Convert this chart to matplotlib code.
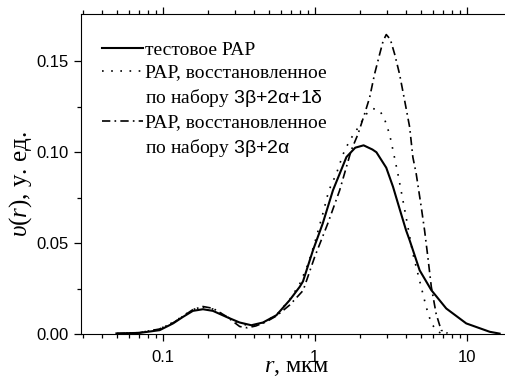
import matplotlib
matplotlib.use('Agg')
import matplotlib.pyplot as plt
from matplotlib.lines import Line2D
from matplotlib.ticker import FixedLocator, NullFormatter

plt.rcParams['mathtext.fontset'] = 'custom'
plt.rcParams['mathtext.rm'] = 'Liberation Serif'
plt.rcParams['mathtext.it'] = 'Liberation Serif:italic'
plt.rcParams['mathtext.sf'] = 'Liberation Sans'

# test distribution (solid)
r_test = [0.0496, 0.0707, 0.0955, 0.117, 0.136, 0.158, 0.184, 0.214, 0.262, 0.321,
          0.383, 0.457, 0.56, 0.685, 0.797, 0.838, 0.975, 1.13, 1.32, 1.62, 1.85,
          2.10, 2.4, 2.55, 2.96, 3.28, 3.62, 4.0, 4.22, 4.91, 5.86, 7.35, 9.95, 14.2, 16.5]
v_test = [0.0004, 0.0007, 0.0022, 0.0059, 0.0095, 0.0128, 0.0137, 0.0128, 0.0095, 0.0064,
          0.0049, 0.0064, 0.0104, 0.0187, 0.026, 0.029, 0.0461, 0.0608, 0.0791, 0.0974, 0.1025,
          0.1038, 0.1015, 0.100, 0.0915, 0.081, 0.069, 0.057, 0.0516, 0.0351, 0.0242, 0.0141,
          0.0059, 0.0013, 0.0003]

# restored from 3b+2a+1d (dotted)
r_dot = [0.05, 0.07, 0.095, 0.117, 0.136, 0.158, 0.184, 0.214, 0.262, 0.321, 0.383,
         0.457, 0.56, 0.685, 0.797, 0.9, 1.0, 1.13, 1.24, 1.39, 1.54, 1.70, 1.88, 2.19,
         2.42, 2.68, 2.89, 3.11, 3.28, 3.53, 3.81, 4.11, 4.43, 4.9, 5.42, 5.86, 6.45, 7.1]
v_dot = [0.0003, 0.0008, 0.0028, 0.0065, 0.010, 0.0136, 0.0148, 0.0138, 0.0098, 0.0058,
         0.0045, 0.0062, 0.0105, 0.019, 0.0275, 0.038, 0.050, 0.066, 0.079, 0.0882, 0.099,
         0.1065, 0.112, 0.121, 0.124, 0.123, 0.118, 0.110, 0.101, 0.0882, 0.0736, 0.0589,
         0.0443, 0.0296, 0.015, 0.0059, 0.0013, 0.0]

# restored from 3b+2a (dash-dot)
r_dd = [0.05, 0.07, 0.095, 0.117, 0.136, 0.158, 0.184, 0.214, 0.262, 0.321, 0.36, 0.41,
        0.48, 0.56, 0.685, 0.84, 1.0, 1.22, 1.46, 1.74, 1.93, 2.13, 2.30, 2.48, 2.68,
        2.82, 2.96, 3.15, 3.36, 3.62, 3.91, 4.22, 4.43, 4.66, 5.03, 5.29, 5.56, 5.86,
        6.3, 6.8, 7.5]
v_dd = [0.0003, 0.0008, 0.0028, 0.0062, 0.0098, 0.0135, 0.0152, 0.0142, 0.0098, 0.0042,
        0.0035, 0.0045, 0.0068, 0.0100, 0.016, 0.024, 0.0424, 0.0608, 0.079, 0.101, 0.110,
        0.121, 0.130, 0.143, 0.154, 0.161, 0.1647, 0.162, 0.154, 0.143, 0.1285, 0.1138,
        0.0973, 0.0882, 0.0699, 0.0571, 0.0424, 0.026, 0.0113, 0.0022, 0.0005]

labels = ['тестовое РАР',
          'РАР, восстановленное',
          r'по набору $\mathsf{3β{+}2α{+}1δ}$',
          'РАР, восстановленное',
          r'по набору $\mathsf{3β{+}2α}$']

fig = plt.figure(figsize=(5.05, 3.78), dpi=100)
ax = fig.add_axes([0.160, 0.116, 0.840, 0.847])

l1, = ax.plot(r_test, v_test, color='black', lw=1.5, ls='-')
l2, = ax.plot(r_dot, v_dot, color='black', lw=1.2, ls=(0, (1, 4.5)))
l3, = ax.plot(r_dd, v_dd, color='black', lw=1.2, ls=(0, (5, 2.5, 1, 2.5)))

ax.set_xscale('log')
ax.set_xlim(0.0289, 17.9)
ax.set_ylim(0, 0.176)
ax.yaxis.set_major_locator(FixedLocator([0.0, 0.05, 0.10, 0.15]))
ax.yaxis.set_minor_locator(FixedLocator([0.025, 0.075, 0.125]))
ax.set_yticklabels(['0.00', '0.05', '0.10', '0.15'])
ax.set_xticks([0.1, 1, 10])
ax.set_xticklabels(['0.1', '1', '10'])

for lab in ax.get_xticklabels() + ax.get_yticklabels():
    lab.set_family('Liberation Sans')
    lab.set_fontsize(12)

ax.spines['right'].set_visible(False)
ax.tick_params(which='both', direction='out', top=True, right=False, width=0.9)
ax.tick_params(which='major', length=5)
ax.tick_params(which='minor', length=3)
ax.tick_params(axis='x', which='major', pad=6.5)
ax.xaxis.set_minor_formatter(NullFormatter())

ax.set_xlabel(r'$\mathit{r}$, мкм', family='Liberation Serif', fontsize=17.5)
ax.set_ylabel(r'$\mathit{υ}(\mathit{r})$, у. ед.', family='Liberation Serif', fontsize=18)
ax.xaxis.set_label_coords(0.51, -0.072)
ax.yaxis.set_label_coords(-0.111, 0.47)

blank = Line2D([], [], color='none')
ax.legend([l1, l2, blank, l3, blank], labels, loc='upper left', frameon=False,
          prop={'family': 'Liberation Serif', 'size': 14}, handlelength=2.1,
          handletextpad=0.1, labelspacing=0.27, borderaxespad=0,
          bbox_to_anchor=(0.031, 0.94))

fig.savefig('out.png', dpi=100)
